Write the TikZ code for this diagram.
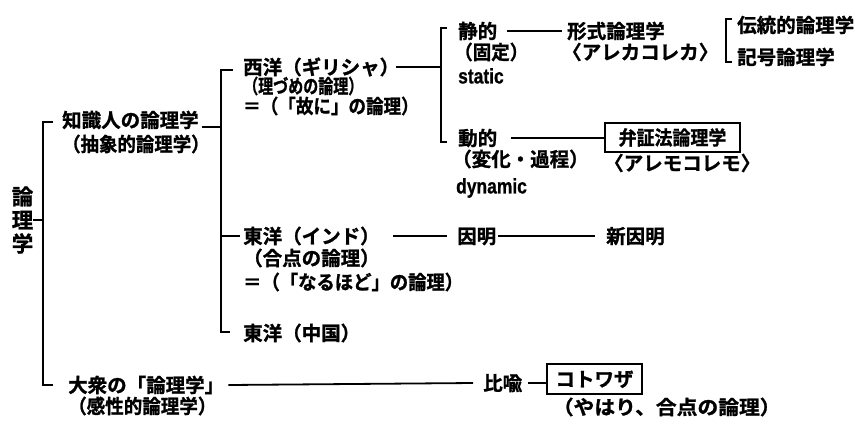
\documentclass[tikz,border=0pt]{standalone}
\usepackage{fontspec}
\usepackage{graphicx}
\setmainfont{Noto Sans CJK JP Bold}[FakeBold=1.2]
\newfontfamily\latfont{Liberation Sans Bold}[FakeBold=1]
\newcommand\myhs[2]{\scalebox{#1}[1]{#2}}
\begin{document}
\begin{tikzpicture}[x=1pt,y=-1pt,
  txt/.style={anchor=west,inner sep=0pt,font=\fontsize{19.5}{21}\selectfont,text height=16.2pt,text depth=1.4pt},
  lat/.style={font=\latfont\fontsize{21}{23}\selectfont},
  brk/.style={line width=2.6pt},
  con/.style={line width=1.8pt},
  boxed/.style={draw,line width=2pt,inner sep=0pt,font=\fontsize{19.5}{21}\selectfont,text height=16.2pt,text depth=1.4pt}
]
\useasboundingbox (0,0) rectangle (856,424);

% text nodes
\node[inner sep=0pt,align=center,font=\fontsize{21.5}{23.5}\selectfont] (ronri) at (22.5,220) {論\\理\\学};
\node[txt] (chishiki1) at (62,120) {知識人の論理学};
\node[txt] (chishiki2) at (62,144) {\myhs{0.945}{（抽象的論理学）}};
\node[txt] (taishu1) at (68,385) {大衆の「論理学」};
\node[txt] (taishu2) at (68,406) {\myhs{0.95}{（感性的論理学）}};
\node[txt] (seiyou1) at (243,67) {西洋（ギリシャ）};
\node[txt] (seiyou2) at (243,86) {\myhs{0.77}{（理づめの論理）}};
\node[txt] (seiyou3) at (243,106) {\myhs{0.9}{＝（「故に」の論理）}};
\node[txt] (indo1) at (243,236) {東洋（インド）};
\node[txt] (indo2) at (243,258) {（合点の論理）};
\node[txt] (indo3) at (243,282) {\myhs{0.94}{＝（「なるほど」の論理）}};
\node[txt] (china) at (243,333) {東洋（中国）};
\node[txt] (seiteki1) at (458,31) {静的};
\node[txt] (seiteki2) at (454,52) {\myhs{0.95}{（固定）}};
\node[txt,lat] (seiteki3) at (458,76) {\myhs{0.83}{static}};
\node[txt] (keishiki1) at (567,31) {形式論理学};
\node[txt] (keishiki2) at (562,52) {〈アレカコレカ〉};
\node[txt] (dentou) at (737,25) {伝統的論理学};
\node[txt] (kigou) at (737,57) {記号論理学};
\node[txt] (doteki1) at (458,138) {動的};
\node[txt] (doteki2) at (452,159) {（変化・過程）};
\node[txt,lat] (doteki3) at (456,186) {\myhs{0.83}{dynamic}};
\node[boxed,minimum width=135pt,minimum height=29pt] (benshou) at (672.5,137.5) {\myhs{0.92}{弁証法論理学}};
\node[txt] (aremo) at (604,163) {〈アレモコレモ〉};
\node[txt] (inmyou) at (457,236) {因明};
\node[txt] (shin) at (606,236) {新因明};
\node[txt] (hiyu) at (483,383) {比喩};
\node[boxed,minimum width=95pt,minimum height=30pt] (kotowaza) at (594.5,379) {コトワザ};
\node[txt] (yahari) at (552.6,407) {\myhs{1.066}{（やはり、合点の論理）}};

% bracket coordinates
\coordinate (b1t) at (43,122);  \coordinate (b1te) at (53,122);
\coordinate (b1b) at (43,385);  \coordinate (b1be) at (53,385);
\coordinate (b2t) at (221,70);  \coordinate (b2te) at (233,70);
\coordinate (b2b) at (221,332); \coordinate (b2be) at (230,332);
\coordinate (b2in) at (202,127);
\coordinate (b3t) at (441,28);  \coordinate (b3te) at (447,28);
\coordinate (b3b) at (441,142); \coordinate (b3be) at (447,142);
\coordinate (b4t) at (726,19);  \coordinate (b4te) at (732,19);
\coordinate (b4b) at (726,62);  \coordinate (b4be) at (732,62);

% brackets
\draw[brk] (b1te) -- (b1t) -- (b1b) -- (b1be);
\draw[brk] (ronri.east) -- (ronri.east -| b1t);
\draw[brk] (b2te) -- (b2t) -- (b2b) -- (b2be);
\draw[brk] (b2in) -- (b2in -| b2t);
\draw[brk] (indo1.west -| b2t) -- ([xshift=-3pt]indo1.west);
\draw[brk] (b3te) -- (b3t) -- (b3b) -- (b3be);
\draw[brk] ([xshift=-3pt]seiyou1.east) -- (seiyou1.east -| b3t);
\draw[brk] (b4te) -- (b4t) -- (b4b) -- (b4be);

% connectors
\draw[con] ([xshift=10pt]seiteki1.east) -- ([xshift=-5pt]keishiki1.west);
\draw[con] ([xshift=14pt]doteki1.east) -- (doteki1.east -| benshou.west);
\draw[con] ([xshift=13pt]indo1.east) -- ([xshift=-10pt]inmyou.west);
\draw[con] ([xshift=2pt]inmyou.east) -- ([xshift=-11pt]shin.west);
\draw[con] ([xshift=4pt]taishu1.east) -- ([xshift=-10pt]hiyu.west);
\draw[con] ([xshift=6pt]hiyu.east) -- (hiyu.east -| kotowaza.west);
\end{tikzpicture}
\end{document}
